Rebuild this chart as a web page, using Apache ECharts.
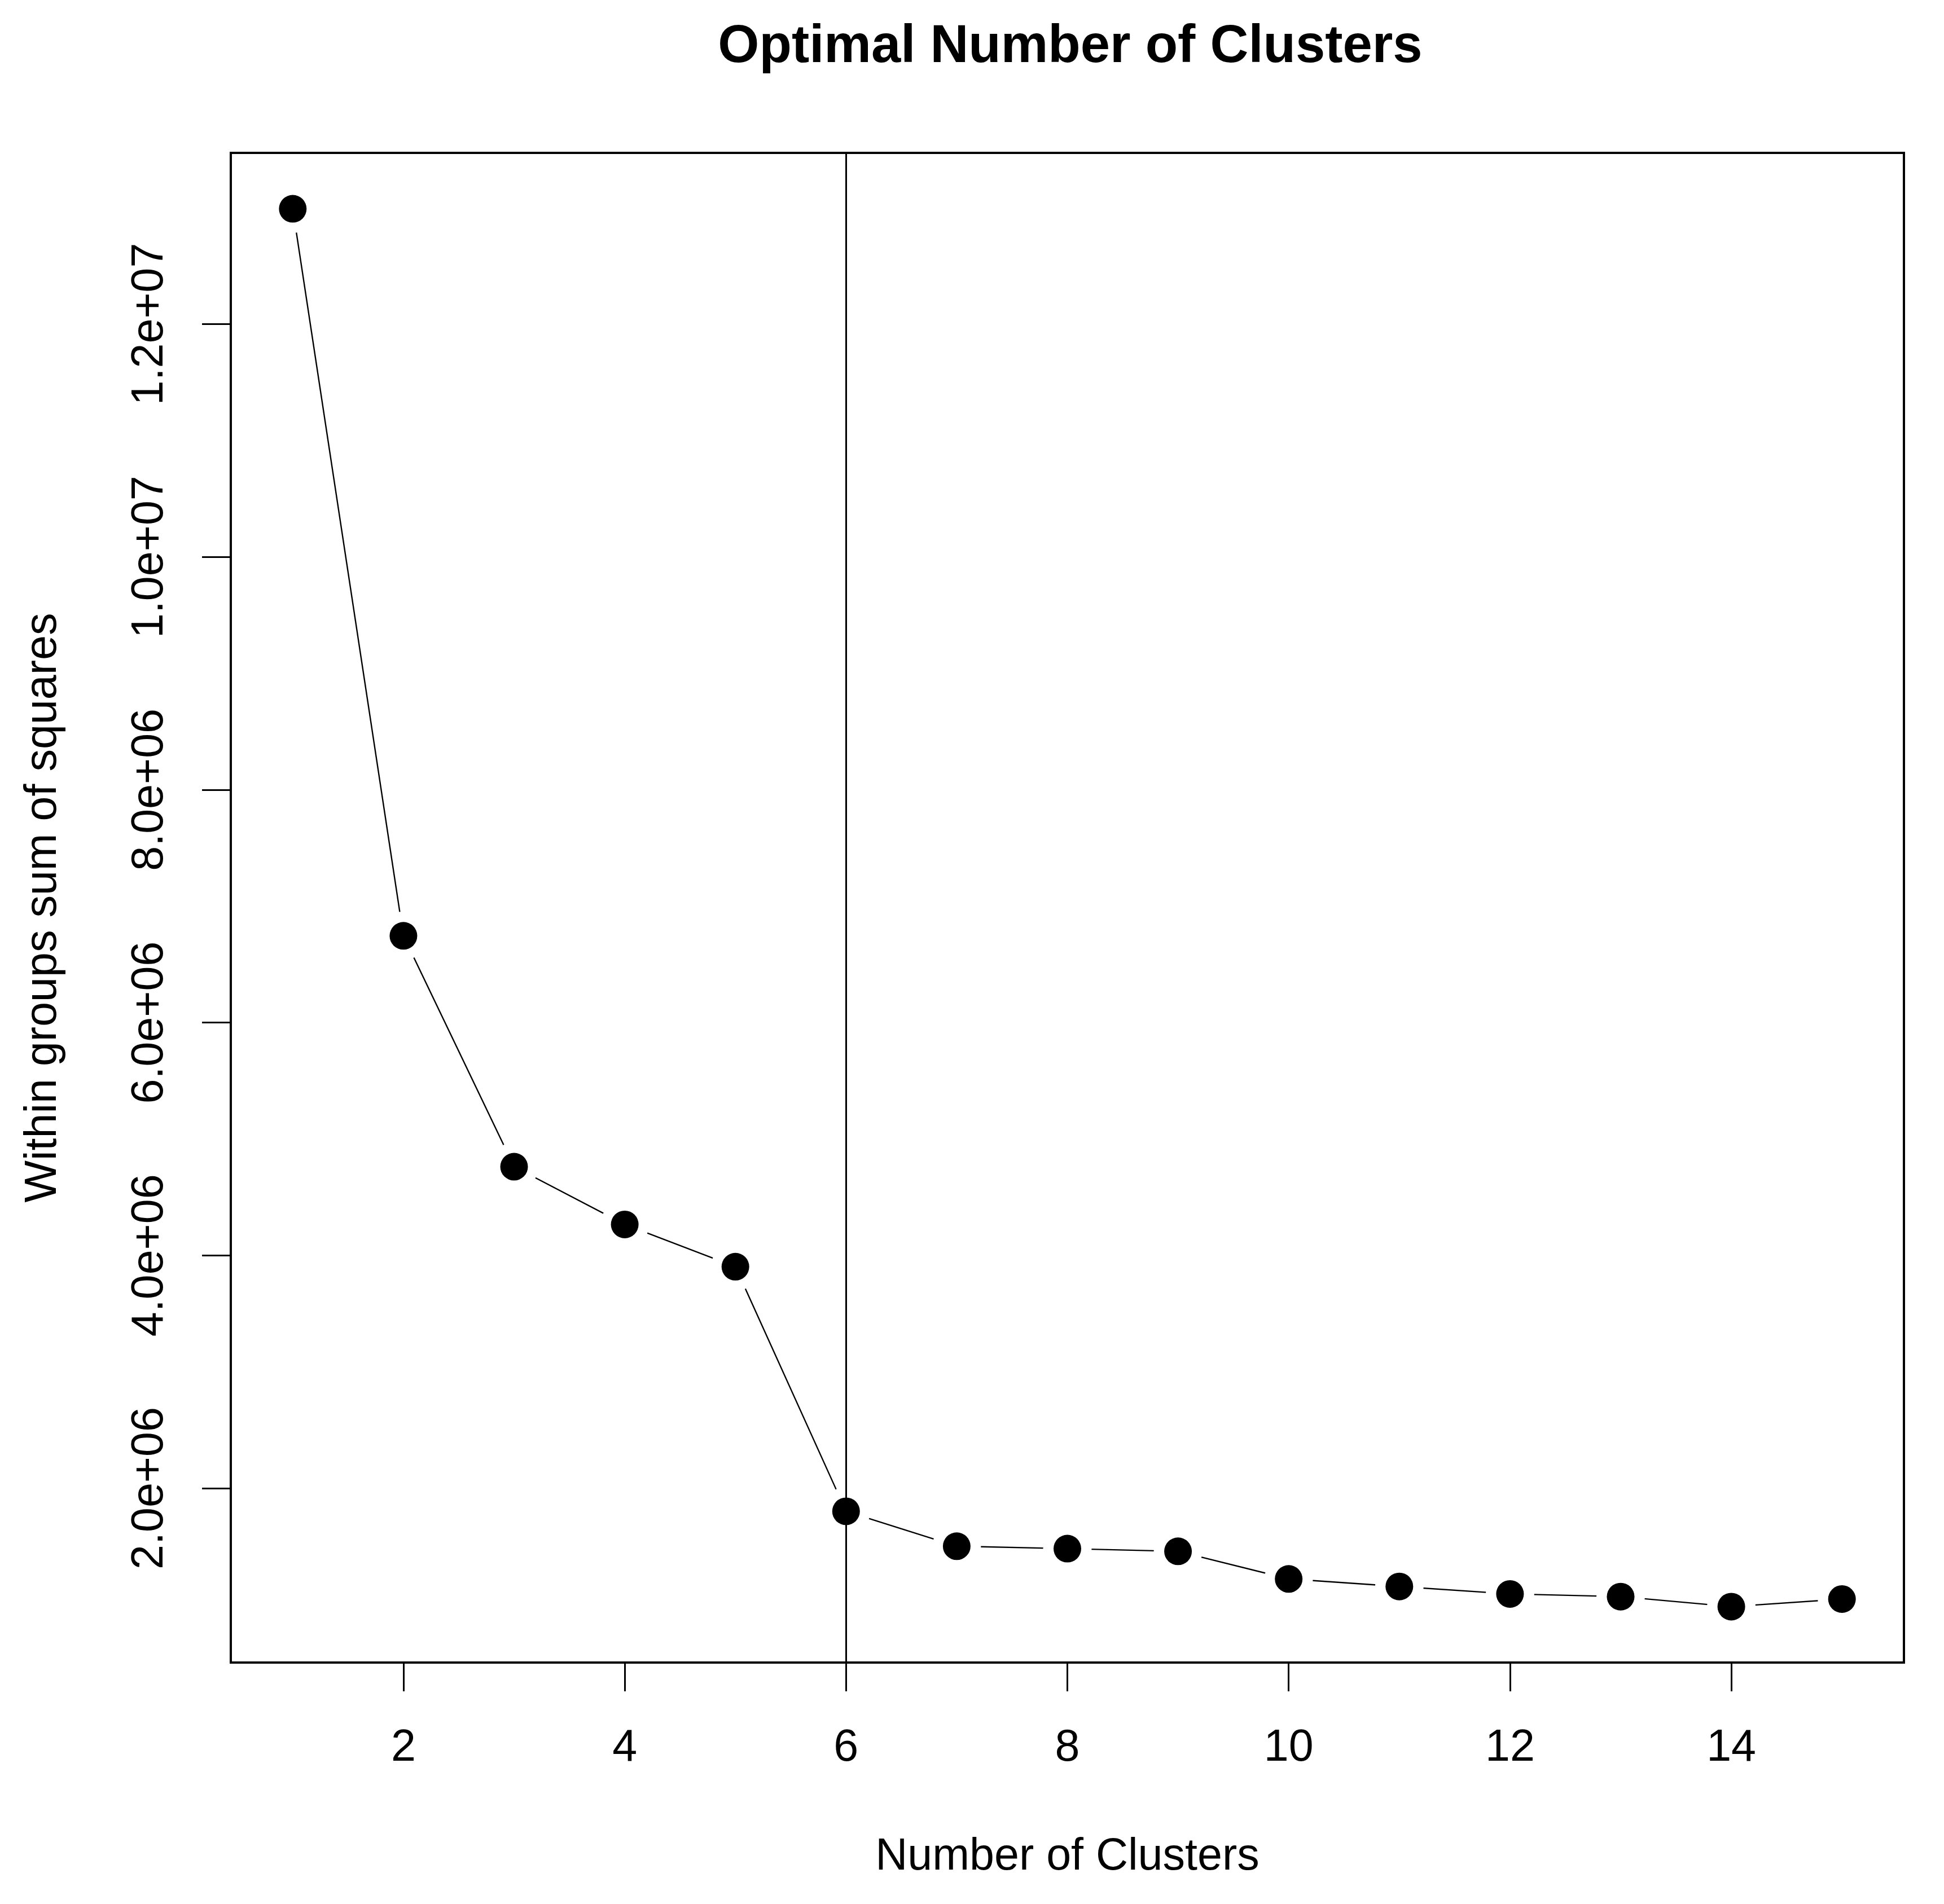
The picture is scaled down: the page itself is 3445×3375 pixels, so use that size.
<!DOCTYPE html>
<html>
<head>
<meta charset="utf-8">
<script src="https://cdn.jsdelivr.net/npm/echarts@6/dist/echarts.min.js"></script>
<style>
html,body{margin:0;padding:0;background:#fff;}
#chart{width:3445px;height:3375px;}
</style>
</head>
<body>
<div id="chart"></div>
<script>
// ---- data ----
const clusters = [1,2,3,4,5,6,7,8,9,10,11,12,13,14,15];
const wss = [12990000, 6745000, 4762000, 4266000, 3903000, 1802000, 1502000, 1481000, 1458000, 1221000, 1156000, 1092000, 1069000, 983000, 1048000];
const optimalK = 6;
const xTicks = [2,4,6,8,10,12,14];
const xTickLabels = ['2','4','6','8','10','12','14'];
const yTicks = [2000000,4000000,6000000,8000000,10000000,12000000];
const yTickLabels = ['2.0e+06','4.0e+06','6.0e+06','8.0e+06','1.0e+07','1.2e+07'];
const titleText = 'Optimal Number of Clusters';
const xName = 'Number of Clusters';
const yName = 'Within groups sum of squares';

// R-style 4% axis expansion
function expand(arr){
  const mn = Math.min.apply(null, arr), mx = Math.max.apply(null, arr);
  const e = (mx - mn) * 0.04;
  return [mn - e, mx + e];
}
const xr = expand(clusters);
const yr = expand(wss);
const pts = clusters.map((c,i)=>[c, wss[i]]);

const GRID = {left: 409, right: 71, top: 271, bottom: 428};
const W = 3445;
const plotCenterX = GRID.left + (W - GRID.left - GRID.right) / 2;

const FONT = 'Liberation Sans, Arial, sans-serif';
const chart = echarts.init(document.getElementById('chart'), null, {renderer:'canvas'});
chart.setOption({
  animation: false,
  backgroundColor: '#ffffff',
  title: {
    text: titleText,
    left: plotCenterX,
    textAlign: 'center',
    top: 32,
    textStyle: {fontFamily: FONT, fontSize: 94, fontWeight: 'bold', color: '#000'}
  },
  grid: Object.assign({}, GRID, {
    show: true, borderColor: '#000', borderWidth: 4, backgroundColor: 'transparent'
  }),
  xAxis: {
    type: 'value', min: xr[0], max: xr[1],
    splitLine: {show: false},
    axisLine: {show: false},
    axisTick: {show: true, inside: false, length: 51, lineStyle: {color: '#000', width: 3}, customValues: xTicks},
    axisLabel: {
      show: true, margin: 113, customValues: xTicks,
      formatter: v => xTickLabels[xTicks.indexOf(v)],
      fontFamily: FONT, fontSize: 79, color: '#000'
    },
    name: xName, nameLocation: 'middle', nameGap: 306,
    nameTextStyle: {fontFamily: FONT, fontSize: 79, color: '#000'}
  },
  yAxis: {
    type: 'value', min: yr[0], max: yr[1],
    splitLine: {show: false},
    axisLine: {show: false},
    axisTick: {show: true, inside: false, length: 51, lineStyle: {color: '#000', width: 3}, customValues: yTicks},
    axisLabel: {
      show: true, margin: 103, rotate: 90, customValues: yTicks,
      formatter: v => yTickLabels[yTicks.indexOf(v)],
      fontFamily: FONT, fontSize: 79, color: '#000'
    },
    name: yName, nameLocation: 'middle', nameGap: 292,
    nameTextStyle: {fontFamily: FONT, fontSize: 79, color: '#000'}
  },
  series: [
    {
      type: 'line', data: pts, showSymbol: false, z: 2, silent: true,
      lineStyle: {color: '#000', width: 2.4, opacity: 1}
    },
    {
      type: 'scatter', data: pts, symbol: 'circle', symbolSize: 86, z: 3, silent: true,
      itemStyle: {color: '#ffffff', opacity: 1}
    },
    {
      type: 'scatter', data: pts, symbol: 'circle', symbolSize: 49, z: 4, silent: true,
      itemStyle: {color: '#000000', opacity: 1},
      markLine: {
        silent: true, symbol: ['none','none'],
        label: {show: false},
        lineStyle: {color: '#000', width: 3, type: 'solid', opacity: 1},
        data: [{xAxis: optimalK}]
      }
    }
  ]
});
</script>
</body>
</html>
